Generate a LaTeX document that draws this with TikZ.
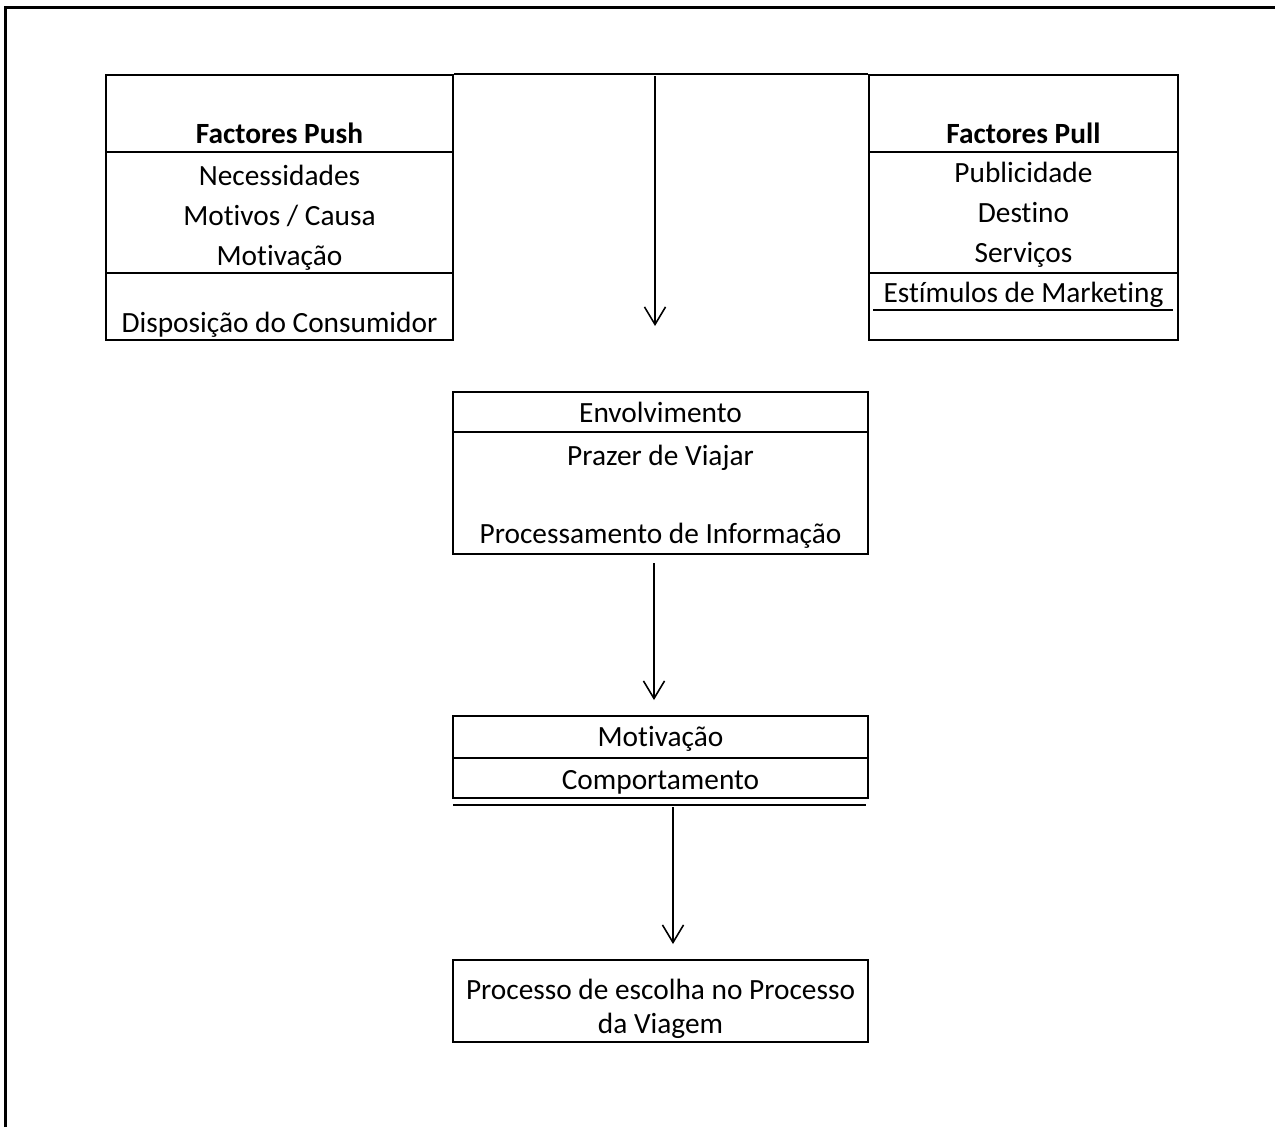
\documentclass[tikz,border=0pt]{standalone}
\usepackage{fontspec}
\setmainfont{Carlito}[Ligatures=NoCommon]
\usetikzlibrary{arrows.meta}
\usetikzlibrary{fit}

\tikzset{
  caixa/.style={draw, line width=1.2pt, inner sep=0pt},
  divisor/.style={line width=1.2pt},
  texto/.style={anchor=base, inner sep=0pt, font=\fontsize{16.7}{20}\selectfont},
  seta/.style={-{Straight Barb[length=10pt,width=12pt]}, line width=0.9pt},
}

\begin{document}
\begin{tikzpicture}[x=0.02cm, y=-0.02cm]
            \useasboundingbox (0,0) rectangle (1275,1127);
            % Frame
            \draw[line width=1.8pt] (5.5,1127) -- (5.5,7.5) -- (1275,7.5);

            % Boxes
            \node[caixa, fit={(106,75) (453,340)}] (push) {};
            \node[caixa, fit={(869,75) (1178,340)}] (pull) {};
            \node[caixa, fit={(453,392) (868,554)}] (envol) {};
            \node[caixa, fit={(453,716) (868,798)}] (motiv) {};
            \node[caixa, fit={(453,960) (868,1042)}] (escolha) {};

            % Dividers
            \draw[divisor] (106,152) -- (453,152);
            \draw[divisor] (106,273) -- (453,273);
            \draw[divisor] (869,152) -- (1178,152);
            \draw[divisor] (869,273) -- (1178,273);
            \draw[line width=0.9pt] (873,310) -- (1173,310);
            \draw[divisor] (453,432) -- (868,432);
            \draw[divisor] (453,758) -- (868,758);
            \draw[divisor] (453,805) -- (866,805);

            % Texts
            \node[texto] (tpush) at (279.5,143) {\textbf{Factores Push}};
            \node[texto] (necess) at (279.5,185) {Necessidades};
            \node[texto] (motivos) at (279.5,225) {Motivos / Causa};
            \node[texto] (motiva) at (279.5,265) {Motivação};
            \node[texto] (dispos) at (279.5,332) {Disposição do Consumidor};

            \node[texto] (tpull) at (1023.5,143) {\textbf{Factores Pull}};
            \node[texto] (public) at (1023.5,182) {Publicidade};
            \node[texto] (destino) at (1023.5,222) {Destino};
            \node[texto] (servicos) at (1023.5,262) {Serviços};
            \node[texto] (estim) at (1023.5,302) {Estímulos de Marketing};

            \node[texto] (envolv) at (660.5,422) {Envolvimento};
            \node[texto] (prazer) at (660.5,465) {Prazer de Viajar};
            \node[texto] (process) at (660.5,543) {Processamento de Informação};

            \node[texto] (motivb) at (660.5,746) {Motivação};
            \node[texto] (comport) at (660.5,789) {Comportamento};

            \node[texto] (escolha1) at (660.5,999) {Processo de escolha no Processo};
            \node[texto] (escolha2) at (660.5,1033) {da Viagem};

            % Lines
            \coordinate (topo) at (655,76);
            \coordinate (fim1) at (655,326);
            \coordinate (ini2) at (654,563);
            \coordinate (fim2) at (654,700);
            \coordinate (ini3) at (673,807);
            \coordinate (fim3) at (673,944);
            \draw[divisor] (push.north east) -- (pull.north west);
            \draw[seta] (topo) -- (fim1);
            \draw[seta] (ini2) -- (fim2);
            \draw[seta] (ini3) -- (fim3);
        \end{tikzpicture}
\end{document}
